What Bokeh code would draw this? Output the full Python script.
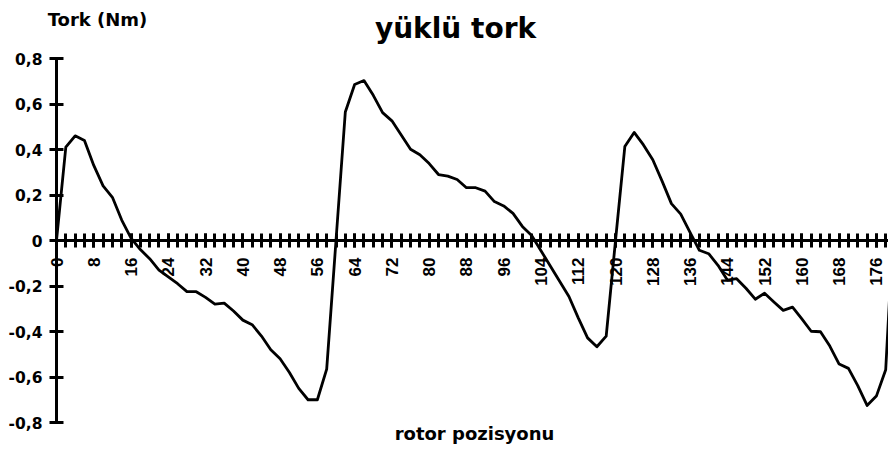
import math
from bokeh.plotting import figure
from bokeh.models import Range1d, FixedTicker, Label
from bokeh.embed import file_html
from bokeh.resources import INLINE

# rotor position (degrees), one category every 2 degrees
positions = [0, 2, 4, 6, 8, 10, 12, 14, 16, 18, 20, 22, 24, 26, 28, 30, 32, 34, 36, 38,
             40, 42, 44, 46, 48, 50, 52, 54, 56, 58, 60, 62, 64, 66, 68, 70, 72, 74, 76, 78,
             80, 82, 84, 86, 88, 90, 92, 94, 96, 98, 100, 102, 104, 106, 108, 110, 112, 114, 116, 118,
             120, 122, 124, 126, 128, 130, 132, 134, 136, 138, 140, 142, 144, 146, 148, 150, 152, 154, 156, 158,
             160, 162, 164, 166, 168, 170, 172, 174, 176, 178, 180]

# loaded torque (Nm)
torque = [0.00, 0.41, 0.46, 0.44, 0.33, 0.24, 0.19, 0.09, 0.01, -0.04,
          -0.08, -0.13, -0.16, -0.19, -0.225, -0.225, -0.25, -0.28, -0.275, -0.31,
          -0.35, -0.37, -0.42, -0.48, -0.52, -0.58, -0.65, -0.70, -0.70, -0.565,
          0.00, 0.565, 0.686, 0.703, 0.638, 0.562, 0.526, 0.464, 0.401, 0.377,
          0.338, 0.29, 0.283, 0.268, 0.232, 0.232, 0.217, 0.171, 0.152, 0.119,
          0.062, 0.022, -0.045, -0.112, -0.179, -0.246, -0.34, -0.428, -0.467, -0.42,
          0.00, 0.413, 0.475, 0.42, 0.355, 0.261, 0.162, 0.116, 0.036, -0.043,
          -0.058, -0.109, -0.174, -0.168, -0.21, -0.258, -0.232, -0.27, -0.307, -0.293,
          -0.345, -0.399, -0.401, -0.464, -0.543, -0.562, -0.638, -0.725, -0.684, -0.568,
          0.20]

x_tick_values = [0, 8, 16, 24, 32, 40, 48, 56, 64, 72, 80, 88, 96, 104, 112, 120,
                 128, 136, 144, 152, 160, 168, 176]
y_ticks = [-0.8, -0.6, -0.4, -0.2, 0, 0.2, 0.4, 0.6, 0.8]
y_tick_labels = ["-0,8", "-0,6", "-0,4", "-0,2", "0", "0,2", "0,4", "0,6", "0,8"]

title_text = "yüklü tork"
y_title = "Tork (Nm)"
x_title = "rotor pozisyonu"

W, H = 888, 446
# plot-area geometry in pixels (the frame fills the whole canvas; axes are drawn at fixed locations)
AX_LEFT, AX_TOP, AX_BOTTOM = 56, 58, 422
X_END = 178.6
y_lo, y_hi = min(y_ticks), max(y_ticks)
ppx = (W - AX_LEFT) / (X_END - positions[0])
ppy = (AX_BOTTOM - AX_TOP) / (y_hi - y_lo)
x_range = Range1d(positions[0] - AX_LEFT / ppx, X_END)
y_range = Range1d(y_lo - (H - AX_BOTTOM) / ppy, y_hi + AX_TOP / ppy)

p = figure(width=W, height=H, output_backend="svg", toolbar_location=None,
           x_range=x_range, y_range=y_range, min_border=0,
           min_border_left=0, min_border_right=0, min_border_top=0, min_border_bottom=0)
p.outline_line_color = None
p.xgrid.grid_line_color = None
p.ygrid.grid_line_color = None
p.background_fill_color = "white"
p.border_fill_color = "white"

p.line(positions, torque, line_width=2.8, line_color="black", line_join="round")

ya = p.yaxis[0]
ya.fixed_location = positions[0]
ya.bounds = (y_lo, y_hi)
ya.ticker = FixedTicker(ticks=y_ticks)
ya.major_label_overrides = dict(zip(y_ticks, y_tick_labels))
ya.axis_line_width = 3
ya.major_tick_line_width = 3
ya.major_tick_in = 7
ya.major_tick_out = 7
ya.minor_tick_line_color = None
ya.major_label_standoff = 7
ya.major_label_text_font = "DejaVu Sans"
ya.major_label_text_font_style = "bold"
ya.major_label_text_font_size = "15.5px"
ya.major_label_text_color = "black"

xa = p.xaxis[0]
xa.fixed_location = 0
xa.bounds = (positions[0], X_END)
xa.ticker = FixedTicker(ticks=x_tick_values, minor_ticks=positions)
xa.axis_line_width = 3
xa.major_tick_line_width = 3
xa.minor_tick_line_width = 3
xa.major_tick_in = 7
xa.major_tick_out = 7
xa.minor_tick_in = 7
xa.minor_tick_out = 7
xa.major_label_orientation = math.pi / 2
xa.major_label_standoff = 10
xa.major_label_text_font = "Liberation Sans"
xa.major_label_text_font_style = "bold"
xa.major_label_text_font_size = "17px"
xa.major_label_text_color = "black"

# text annotations: screen pixels measured from the canvas' bottom-left corner
p.add_layout(Label(x=455, y=H - 28, x_units="screen", y_units="screen", text=title_text,
                   text_align="center", text_baseline="middle", text_font="DejaVu Sans",
                   text_font_style="bold", text_font_size="28px", text_color="black"))
p.add_layout(Label(x=97, y=H - 19, x_units="screen", y_units="screen", text=y_title,
                   text_align="center", text_baseline="middle", text_font="DejaVu Sans",
                   text_font_style="bold", text_font_size="18px", text_color="black"))
p.add_layout(Label(x=474, y=H - 433, x_units="screen", y_units="screen", text=x_title,
                   text_align="center", text_baseline="middle", text_font="DejaVu Sans",
                   text_font_style="bold", text_font_size="18px", text_color="black"))

open("out.html", "w").write(file_html(p, INLINE))
